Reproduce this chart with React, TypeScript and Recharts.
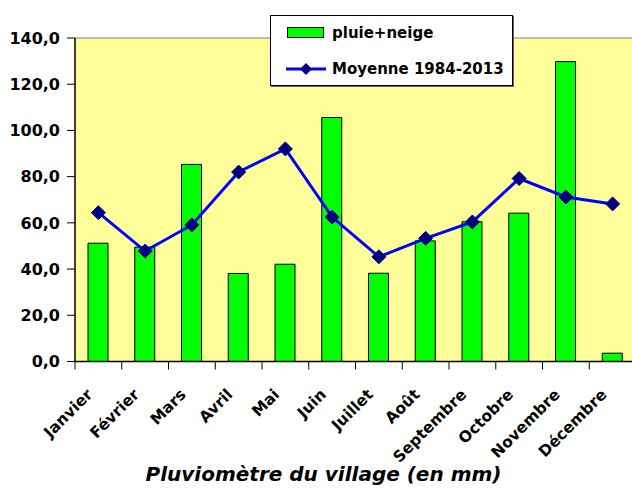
import React from "react";
import {
  ComposedChart,
  Bar,
  Line,
  XAxis,
  YAxis,
  CartesianGrid,
  Legend,
  ReferenceLine,
} from "recharts";

const months = [
  "Janvier",
  "Février",
  "Mars",
  "Avril",
  "Mai",
  "Juin",
  "Juillet",
  "Août",
  "Septembre",
  "Octobre",
  "Novembre",
  "Décembre",
];
const pluieNeige = [51.2, 49.5, 85.3, 38.1, 42.1, 105.6, 38.2, 52.2, 60.5, 64.2, 129.8, 3.6];
const moyenne = [64.4, 47.8, 59.1, 82.0, 92.0, 62.5, 45.3, 53.3, 60.4, 79.2, 71.2, 68.2];
const yTicks = [0, 20, 40, 60, 80, 100, 120, 140];
const title = "Pluviomètre du village (en mm)";

const data = months.map((m, i) => ({
  month: m,
  pluie: pluieNeige[i],
  moyenne: moyenne[i],
}));

const FONT = "'DejaVu Sans', sans-serif";
const HALF_BAND = 23.35;

const MonthTick = (props: any) => {
  const { x, y, payload } = props;
  const ax = x - 5;
  const ay = y + 34;
  return (
    <g>
      <line x1={x - HALF_BAND} y1={y} x2={x - HALF_BAND} y2={y + 8} stroke="#000" strokeWidth={1} />
      <text
        x={ax}
        y={ay}
        transform={`rotate(-45, ${ax}, ${ay})`}
        textAnchor="end"
        fontFamily={FONT}
        fontWeight="bold"
        fontSize={15.5}
        fill="#000"
      >
        {payload.value}
      </text>
    </g>
  );
};

const Diamond = (props: any) => {
  const { cx, cy } = props;
  if (cx == null || cy == null) return null;
  const r = 7;
  return (
    <polygon
      points={`${cx},${cy - r} ${cx + r},${cy} ${cx},${cy + r} ${cx - r},${cy}`}
      fill="#000080"
      stroke="#000080"
    />
  );
};

const legendOrder = ["pluie", "moyenne"];

const renderLegend = (props: any) => {
  const payload = [...(props.payload || [])].sort(
    (a: any, b: any) => legendOrder.indexOf(a.dataKey) - legendOrder.indexOf(b.dataKey)
  );
  return (
    <div
      style={{
        position: "relative",
        width: 243,
        height: 71,
        background: "#fff",
        border: "1px solid #000",
        boxShadow: "1px 1px 0 #666",
        boxSizing: "border-box",
        fontFamily: FONT,
        fontWeight: "bold",
        fontSize: 15,
        color: "#000",
      }}
    >
      {payload.map((entry: any, i: number) => {
        const top = i === 0 ? 17 : 53;
        const isBar = entry.dataKey === "pluie";
        return (
          <div key={i} style={{ position: "absolute", left: 0, top: top - 10, height: 20, width: 243 }}>
            <svg width={40} height={20} style={{ position: "absolute", left: 15, top: 0 }}>
              {isBar ? (
                <rect x={1.5} y={4.5} width={36} height={10} fill="#00FF00" stroke="#000" strokeWidth={1} />
              ) : (
                <g>
                  <line x1={0} y1={10} x2={40} y2={10} stroke="#0000FF" strokeWidth={3} />
                  <polygon points="20,4 26,10 20,16 14,10" fill="#000080" />
                </g>
              )}
            </svg>
            <span
              style={{
                position: "absolute",
                left: 61,
                top: 0,
                lineHeight: "20px",
                whiteSpace: "nowrap",
              }}
            >
              {entry.value}
            </span>
          </div>
        );
      })}
    </div>
  );
};

export default function App() {
  return (
    <div
      style={{
        position: "absolute",
        left: 0,
        top: 0,
        width: 632,
        height: 488,
        overflow: "hidden",
        background: "#fff",
      }}
    >
      <ComposedChart
        width={640}
        height={488}
        data={data}
        margin={{ top: 38, right: 4, left: 0, bottom: 56.5 }}
      >
        <CartesianGrid fill="#FFFF99" horizontal={false} vertical={false} stroke="none" />
        <XAxis
          dataKey="month"
          interval={0}
          height={70}
          tickLine={false}
          tickSize={0}
          tickMargin={0}
          axisLine={{ stroke: "#000", strokeWidth: 1.5 }}
          tick={<MonthTick />}
        />
        <YAxis
          width={75}
          domain={[0, 140]}
          ticks={yTicks}
          allowDataOverflow
          tickSize={8}
          tickMargin={7}
          axisLine={{ stroke: "#000", strokeWidth: 1.5 }}
          tickLine={{ stroke: "#000" }}
          tickFormatter={(v: number) => v.toFixed(1).replace(".", ",")}
          tick={{ fontFamily: FONT, fontWeight: "bold", fontSize: 16, fill: "#000" }}
        />
        <ReferenceLine y={140} stroke="#808080" strokeWidth={1} />
        <Bar
          dataKey="pluie"
          name="pluie+neige"
          fill="#00FF00"
          stroke="#000"
          strokeWidth={1}
          barSize={20}
          isAnimationActive={false}
        />
        <Line
          dataKey="moyenne"
          name="Moyenne 1984-2013"
          stroke="#0000FF"
          strokeWidth={3}
          dot={<Diamond />}
          activeDot={false}
          isAnimationActive={false}
        />
        <Legend
          layout="horizontal"
          verticalAlign="middle"
          align="center"
          content={renderLegend}
          wrapperStyle={{ position: "absolute", left: 270, top: 15, width: 243, height: 71 }}
        />
      </ComposedChart>
      <svg
        width={632}
        height={488}
        style={{ position: "absolute", left: 0, top: 0, pointerEvents: "none" }}
      >
        <text
          x={323.5}
          y={481}
          textAnchor="middle"
          fontFamily={FONT}
          fontWeight="bold"
          fontStyle="italic"
          fontSize={20}
          fill="#000"
        >
          {title}
        </text>
      </svg>
    </div>
  );
}
